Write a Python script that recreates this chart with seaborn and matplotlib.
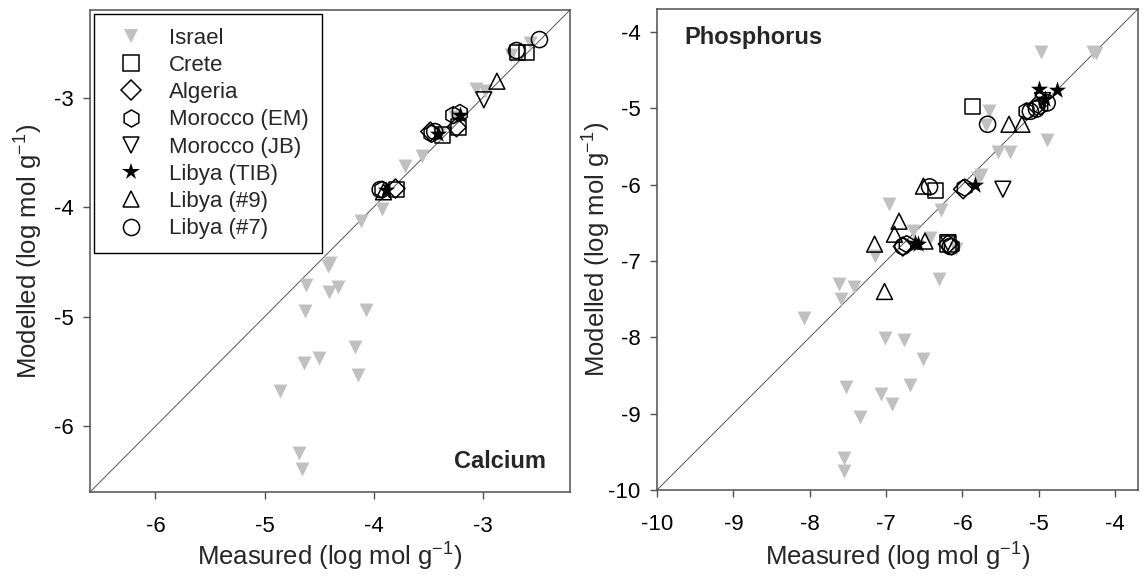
import matplotlib
matplotlib.use("Agg")
import matplotlib.pyplot as plt
from matplotlib.lines import Line2D
import seaborn as sns
import pandas as pd

# ---- Calcium panel (measured, modelled) ----
ca_israel_x = [-4.40, -4.42, -4.62, -4.33, -4.41, -4.63, -4.07, -4.17, -4.50, -4.64, -4.14, -4.86,
               -4.68, -4.66, -4.12, -3.92, -3.71, -3.56, -3.06, -2.98, -2.74, -2.57, -3.40, -3.25]
ca_israel_y = [-4.51, -4.54, -4.71, -4.73, -4.77, -4.95, -4.94, -5.28, -5.38, -5.42, -5.53, -5.68,
               -6.24, -6.39, -4.13, -4.02, -3.62, -3.53, -2.92, -2.94, -2.61, -2.50, -3.33, -3.18]
ca_crete_x = [-2.68, -2.60, -3.37, -3.22, -3.79]
ca_crete_y = [-2.59, -2.59, -3.34, -3.27, -3.84]
ca_algeria_x = [-3.24, -3.48, -3.80]
ca_algeria_y = [-3.27, -3.31, -3.83]
ca_mor_em_x = [-3.21, -3.27, -3.47, -3.92]
ca_mor_em_y = [-3.14, -3.16, -3.33, -3.84]
ca_mor_jb_x = [-2.99]
ca_mor_jb_y = [-3.02]
ca_tib_x = [-3.21, -3.41, -3.89]
ca_tib_y = [-3.16, -3.33, -3.84]
ca_l9_x = [-2.87, -3.91]
ca_l9_y = [-2.85, -3.86]
ca_l7_x = [-2.48, -2.69, -3.94, -3.44]
ca_l7_y = [-2.47, -2.57, -3.84, -3.31]

# ---- Phosphorus panel ----
p_israel_x = [-4.97, -4.29, -4.25, -5.65, -5.69, -4.89, -5.54, -5.38, -5.75, -5.80, -6.96, -6.28,
              -6.65, -6.43, -6.08, -7.14, -7.62, -7.42, -7.59, -8.08, -6.30, -7.02, -6.76, -6.51,
              -7.53, -6.68, -7.06, -6.92, -7.34, -7.55, -7.55]
p_israel_y = [-4.26, -4.26, -4.27, -5.03, -5.22, -5.42, -5.57, -5.57, -5.88, -5.92, -6.25, -6.33,
              -6.61, -6.70, -6.85, -6.94, -7.30, -7.34, -7.50, -7.75, -7.24, -8.01, -8.04, -8.29,
              -8.65, -8.62, -8.74, -8.87, -9.04, -9.58, -9.75]
p_crete_x = [-5.87, -6.35, -6.19]
p_crete_y = [-4.98, -6.08, -6.78]
p_algeria_x = [-5.99, -6.78, -5.03, -6.19]
p_algeria_y = [-6.06, -6.81, -4.97, -6.78]
p_mor_em_x = [-5.16, -5.97, -6.73, -6.14, -4.98]
p_mor_em_y = [-5.04, -6.04, -6.78, -6.81, -4.97]
p_mor_jb_x = [-5.47, -6.19, -4.95]
p_mor_jb_y = [-6.06, -6.76, -4.90]
p_tib_x = [-5.00, -4.76, -4.92, -5.84, -6.62, -6.58]
p_tib_y = [-4.75, -4.76, -4.88, -6.00, -6.76, -6.78]
p_l9_x = [-5.39, -5.22, -6.51, -6.83, -6.89, -7.15, -6.49, -7.02]
p_l9_y = [-5.21, -5.21, -6.02, -6.48, -6.65, -6.78, -6.74, -7.40]
p_l7_x = [-5.67, -6.43, -5.11, -5.03, -4.89, -6.78, -6.16]
p_l7_y = [-5.21, -6.03, -5.04, -5.01, -4.93, -6.81, -6.81]

groups = ["Israel", "Crete", "Algeria", "Morocco (EM)", "Morocco (JB)",
          "Libya (TIB)", "Libya (#9)", "Libya (#7)"]
markers = {"Israel": "v", "Crete": "s", "Algeria": "D", "Morocco (EM)": "h",
           "Morocco (JB)": "v", "Libya (TIB)": "*", "Libya (#9)": "^", "Libya (#7)": "o"}
sizes = {"Israel": 100, "Crete": 125, "Algeria": 95, "Morocco (EM)": 150,
         "Morocco (JB)": 130, "Libya (TIB)": 170, "Libya (#9)": 130, "Libya (#7)": 135}
GREY = "#c0c0c0"


def make_df(xs, ys):
    rows = []
    for g, x, y in zip(groups, xs, ys):
        for a, b in zip(x, y):
            rows.append({"group": g, "measured": a, "modelled": b})
    return pd.DataFrame(rows)


ca_df = make_df([ca_israel_x, ca_crete_x, ca_algeria_x, ca_mor_em_x, ca_mor_jb_x, ca_tib_x, ca_l9_x, ca_l7_x],
                [ca_israel_y, ca_crete_y, ca_algeria_y, ca_mor_em_y, ca_mor_jb_y, ca_tib_y, ca_l9_y, ca_l7_y])
p_df = make_df([p_israel_x, p_crete_x, p_algeria_x, p_mor_em_x, p_mor_jb_x, p_tib_x, p_l9_x, p_l7_x],
               [p_israel_y, p_crete_y, p_algeria_y, p_mor_em_y, p_mor_jb_y, p_tib_y, p_l9_y, p_l7_y])

sns.set_theme(style="ticks")
plt.rcParams['font.family'] = ['Liberation Sans', 'DejaVu Sans']
plt.rcParams['mathtext.fontset'] = 'custom'
plt.rcParams['mathtext.rm'] = 'Liberation Sans'
plt.rcParams['mathtext.it'] = 'Liberation Sans:italic'
plt.rcParams['axes.unicode_minus'] = False

SPINE = '#505050'
fig = plt.figure(figsize=(11.44, 5.78), dpi=100)
ax1 = fig.add_axes([90 / 1144, 86 / 578, 480 / 1144, 482 / 578])
ax2 = fig.add_axes([657 / 1144, 88 / 578, 481 / 1144, 481 / 578])


def draw(ax, df, lim, ticks, ylab_x, xlab_y):
    ax.plot(lim, lim, color='#555555', lw=0.7, zorder=1)
    for g in groups:
        sub = df[df.group == g]
        if g == "Israel":
            sns.scatterplot(data=sub, x="measured", y="modelled", marker="v", s=sizes[g],
                            color=GREY, linewidth=0, ax=ax, zorder=2)
        elif g == "Libya (TIB)":
            sns.scatterplot(data=sub, x="measured", y="modelled", marker="*", s=sizes[g],
                            color="black", linewidth=0, ax=ax, zorder=3)
        else:
            sns.scatterplot(data=sub, x="measured", y="modelled", marker=markers[g], s=sizes[g],
                            facecolor="none", edgecolor="black", linewidth=1.1, ax=ax, zorder=3)
    ax.set_xlim(lim)
    ax.set_ylim(lim)
    ax.set_xticks(ticks)
    ax.set_yticks(ticks)
    ax.set_xticklabels([str(t) for t in ticks])
    ax.set_yticklabels([str(t) for t in ticks])
    for sp in ax.spines.values():
        sp.set_visible(True)
        sp.set_color(SPINE)
        sp.set_linewidth(1.1)
    ax.tick_params(direction='out', length=5, width=1.0, color=SPINE, labelsize=16,
                   labelcolor='black')
    ax.tick_params(axis='x', pad=12)
    ax.tick_params(axis='y', pad=7)
    ax.set_xlabel('Measured (log mol g$^{-1}$)', fontsize=18.5)
    ax.set_ylabel('Modelled (log mol g$^{-1}$)', fontsize=18.5)
    ax.yaxis.set_label_coords(ylab_x, 0.5)
    ax.xaxis.set_label_coords(0.5, xlab_y)


draw(ax1, ca_df, (-6.6, -2.2), [-6, -5, -4, -3], -0.094, -0.102)
draw(ax2, p_df, (-10, -3.7), [-10, -9, -8, -7, -6, -5, -4], -0.092, -0.106)

handles = []
for g in groups:
    if g == "Israel":
        h = Line2D([], [], ls='none', marker='v', ms=sizes[g] ** 0.5, color=GREY, mew=0)
    elif g == "Libya (TIB)":
        h = Line2D([], [], ls='none', marker='*', ms=sizes[g] ** 0.5, color='black', mew=0)
    else:
        h = Line2D([], [], ls='none', marker=markers[g], ms=sizes[g] ** 0.5,
                   mfc='none', mec='black', mew=1.1)
    handles.append(h)

leg = ax1.legend(handles, groups, loc='upper left', fontsize=16, frameon=True, fancybox=False,
                 framealpha=1, edgecolor='black', borderpad=0.6, handlelength=2.13,
                 handletextpad=0.64, labelspacing=0.28, borderaxespad=0.2, numpoints=1)
leg.get_frame().set_linewidth(1.0)

ax1.text(0.95, 0.05, 'Calcium', transform=ax1.transAxes, ha='right', va='baseline',
         fontsize=17, fontweight='bold')
ax2.text(0.056, 0.927, 'Phosphorus', transform=ax2.transAxes, ha='left', va='baseline',
         fontsize=17, fontweight='bold')

fig.savefig('out.png', dpi=100)
